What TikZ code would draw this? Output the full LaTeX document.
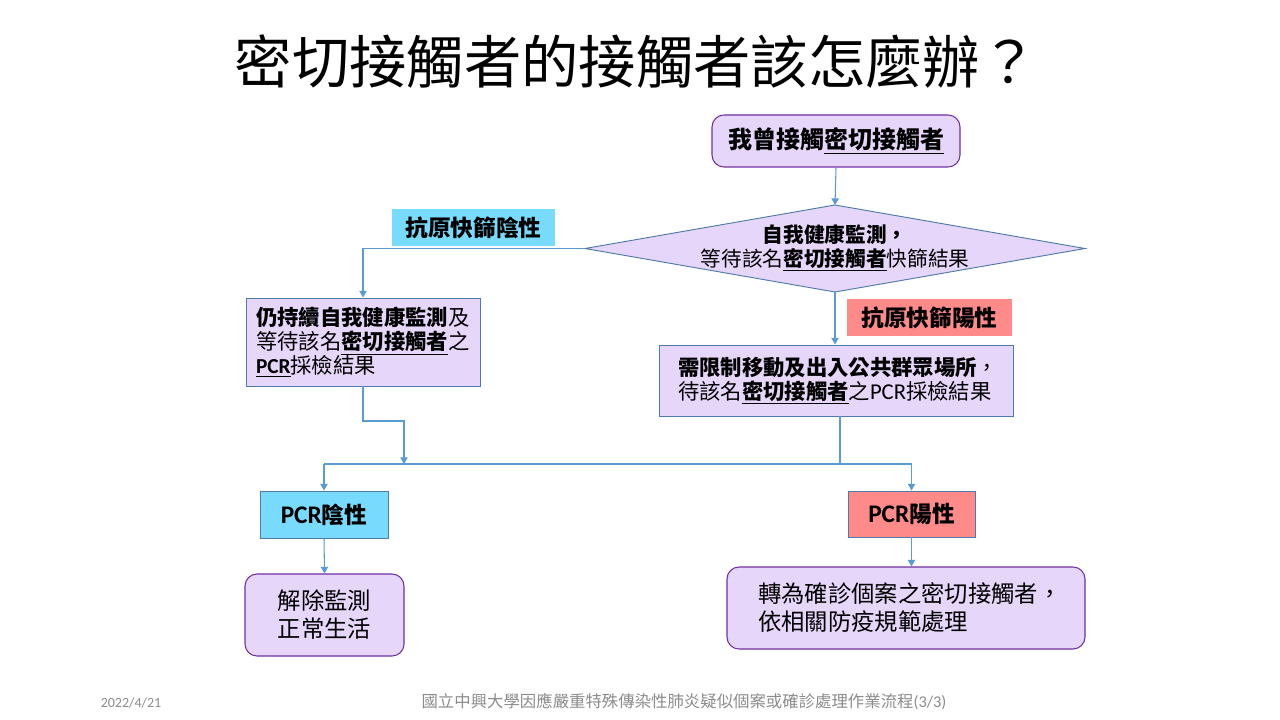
\documentclass[tikz,border=0pt]{standalone}
\usepackage{fontspec}
\setmainfont{Noto Sans CJK TC}
\newfontfamily\lat{Carlito}
\usetikzlibrary{arrows.meta}
\definecolor{lav}{HTML}{E6D6FA}
\definecolor{cyanl}{HTML}{78DBFE}
\definecolor{salm}{HTML}{FF8A8A}
\definecolor{conn}{HTML}{5B9BD5}
\definecolor{bgray}{HTML}{4F7BAA}
\definecolor{purp}{HTML}{7030A0}
\definecolor{foot}{HTML}{8C8C8C}
\newcommand{\ul}[1]{\underline{\textbf{#1}}}
\tikzset{
  x=0.75pt, y=-0.75pt,
  rbox/.style={draw=purp, fill=lav, rounded corners=9pt, line width=0.8pt, inner sep=0pt, align=center},
  sbox/.style={draw=bgray, fill=lav, line width=0.7pt, inner sep=0pt},
  lbl/.style={inner sep=0pt, font=\fontsize{17pt}{20pt}\selectfont\bfseries},
  arr/.style={draw=conn, line width=0.8pt, -{Triangle[width=5.5pt,length=5pt]}},
  ln/.style={draw=conn, line width=0.8pt},
}
\begin{document}
\begin{tikzpicture}
\useasboundingbox (0,0) rectangle (1280,720);
\fill[white] (0,0) rectangle (1280,720);
% title
\node (title) at (636,62) {\fontsize{43pt}{50pt}\selectfont 密切接觸者的接觸者該怎麼辦？};
% top box
\node[rbox, minimum width=186pt, minimum height=39pt, font=\fontsize{18pt}{21pt}\selectfont\bfseries] (b1) at (836,141) {我曾接觸\underline{密切接觸者}};
% diamond
\draw[draw=bgray, fill=lav, line width=0.7pt] (585,248.5) -- (835,205) -- (1085,248.5) -- (835,292) -- cycle;
\coordinate (dN) at (835,205);
\coordinate (dS) at (835,292);
\coordinate (dW) at (585,248.5);
\node[align=center, font=\fontsize{15.5pt}{18pt}\selectfont] (dt) at (835,248) {\textbf{自我健康監測，}\\等待該名\ul{密切接觸者}快篩結果};
% labels
\node[lbl, fill=cyanl, minimum width=122.25pt, minimum height=27.75pt] (ln1) at (473.5,227.5) {抗原快篩陰性};
\node[lbl, fill=salm, minimum width=123.75pt, minimum height=27.75pt] (lp1) at (929.5,317.5) {抗原快篩陽性};
% box2
\node[sbox, minimum width=175.5pt, minimum height=66pt, text width=160.5pt, align=left, font=\fontsize{16pt}{18pt}\selectfont] (b2) at (363,342) {\textbf{仍持續自我健康監測}及\\等待該名\ul{密切接觸者}之\\\ul{\lat PCR}採檢結果};
% box3
\node[sbox, minimum width=265.5pt, minimum height=53.25pt, text width=237pt, align=left, font=\fontsize{16pt}{18pt}\selectfont] (b3) at (836,380.5) {\textbf{需限制移動及出入公共群眾場所}，\\待該名\ul{密切接觸者}之{\lat\fontsize{17pt}{18pt}\selectfont PCR}採檢結果};
% PCR boxes
\node[sbox, fill=cyanl, minimum width=96pt, minimum height=35.25pt, font=\fontsize{17pt}{20pt}\selectfont\bfseries] (pn) at (324,514.5) {{\lat\fontsize{19pt}{20pt}\selectfont PCR}陰性};
\node[sbox, fill=salm, minimum width=95.25pt, minimum height=34.5pt, font=\fontsize{17pt}{20pt}\selectfont\bfseries] (pp) at (911.5,514) {{\lat\fontsize{19pt}{20pt}\selectfont PCR}陽性};
% result boxes
\node[rbox, minimum width=119.25pt, minimum height=61.5pt, font=\fontsize{17.5pt}{21pt}\selectfont] (r1) at (324.5,615) {解除監測\\正常生活};
\node[rbox, minimum width=268.5pt, minimum height=61.5pt, text width=222pt, align=left, font=\fontsize{17.5pt}{21pt}\selectfont] (r2) at (906,608) {轉為確診個案之密切接觸者，\\依相關防疫規範處理};
% connectors
\draw[arr] (b1.south) -- (dN);
\draw[arr] (dW) -| (b2.north);
\draw[arr] (dS) -- (dS |- b3.north);
\coordinate (k1) at (404,421);
\coordinate (jl) at (404,464);
\coordinate (hl) at (324,464);
\coordinate (hr) at (911.5,464);
\coordinate (b3o) at (840,416);
\draw[arr] (b2.south) |- (k1) -- (jl);
\draw[ln] (b3o) -- (b3o |- hr);
\draw[ln] (hl) -- (hr);
\draw[arr] (hl) -- (pn.north);
\draw[arr] (hr) -- (pp.north);
\draw[arr] (pn.south) -- (r1.north);
\draw[arr] (pp.south) -- (pp.south |- r2.north);
% footer
\node[text=foot, font=\lat\fontsize{10.5pt}{12pt}\selectfont] (date) at (131,703) {2022/4/21};
\node[text=foot, font=\fontsize{12.3pt}{14pt}\selectfont] (foottext) at (684,702) {國立中興大學因應嚴重特殊傳染性肺炎疑似個案或確診處理作業流程{\lat(3/3)}};
\end{tikzpicture}
\end{document}
